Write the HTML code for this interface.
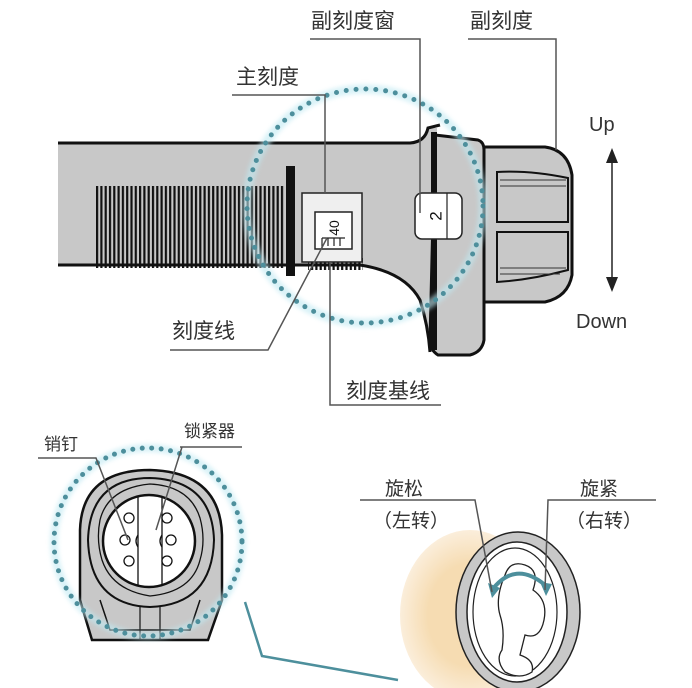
<!DOCTYPE html>
<html><head><meta charset="utf-8"><style>
html,body{margin:0;padding:0;background:#fff;}
svg{display:block;}
text{font-family:"Liberation Sans","Noto Sans CJK SC",sans-serif;fill:#333;}
</style></head><body>
<svg width="692" height="688" viewBox="0 0 692 688" xmlns="http://www.w3.org/2000/svg">
<defs>
<pattern id="tk" x="96" y="0" width="4.3" height="10" patternUnits="userSpaceOnUse"><rect x="0" y="0" width="2.2" height="10" fill="#111"/></pattern>
<filter id="gl" x="-20%" y="-20%" width="140%" height="140%"><feGaussianBlur stdDeviation="2"/></filter>
<radialGradient id="bg" cx="0.5" cy="0.5" r="0.5"><stop offset="0.6" stop-color="#f6dcb2"/><stop offset="1" stop-color="#fbeedb"/></radialGradient>
</defs>

<!-- ===== TOP DIAGRAM ===== -->
<path d="M58 143 L410 143 Q425 142 430 128 L437 128 L437 352 Q428 330 420 300 Q405 272 360 265 L58 265 Z" fill="#c8c8c8"/>
<path d="M58 143 L410 143 Q425 142 428 128 L440 125" fill="none" stroke="#111" stroke-width="3"/>
<path d="M58 265 L360 265 Q405 272 420 300 Q428 325 430 352" fill="none" stroke="#111" stroke-width="3"/>
<!-- flange -->
<path d="M435 135 L478 140 Q484 142 484 150 L484 340 Q482 352 470 355 L438 355 Q430 350 430 340 Z" fill="#c8c8c8" stroke="#111" stroke-width="3"/>
<rect x="431" y="132" width="6" height="218" fill="#111"/>
<!-- knob -->
<path d="M484 147 L545 147 Q568 150 572 175 L572 275 Q568 297 545 302 L484 302 Z" fill="#c8c8c8" stroke="#111" stroke-width="3"/>
<path d="M497 172 Q530 170 568 178 L568 222 L497 222 Z" fill="#c8c8c8" stroke="#111" stroke-width="2"/>
<path d="M497 232 L568 232 L568 270 Q530 280 497 282 Z" fill="#c8c8c8" stroke="#111" stroke-width="2"/>
<path d="M500 180 L566 180 M500 186 L566 186 M500 268 L566 268 M500 274 L560 274" stroke="#333" stroke-width="1"/>
<rect x="286" y="166" width="9" height="110" fill="#111"/>
<rect x="96" y="186" width="189" height="82" fill="url(#tk)"/>
<rect x="308" y="258" width="55" height="12" fill="url(#tk)"/>
<rect x="302" y="193" width="60" height="69" fill="#efefef" stroke="#222" stroke-width="1.5"/>
<rect x="315" y="212" width="37" height="37" fill="#fff" stroke="#222" stroke-width="1.5"/>
<text x="0" y="0" font-size="14" transform="translate(339,228) rotate(-90)" text-anchor="middle" style="fill:#111">40</text>
<path d="M322 238 L345 238 M322 238 L322 248 M328 238 L328 246 M334 238 L334 246 M340 238 L340 246" stroke="#222" stroke-width="1.2"/>
<rect x="415" y="193" width="47" height="46" rx="7" fill="#fff" stroke="#222" stroke-width="1.5"/>
<line x1="447" y1="193" x2="447" y2="239" stroke="#222" stroke-width="1.2"/>
<text font-size="17" transform="translate(437,216) rotate(-90)" text-anchor="middle" dominant-baseline="middle" style="fill:#111">2</text>
<ellipse cx="365" cy="206" rx="118" ry="117" fill="none" stroke="#bfe9f2" stroke-width="9" opacity="0.6" filter="url(#gl)"/>
<ellipse cx="365" cy="206" rx="118" ry="117" fill="none" stroke="#4d8f9c" stroke-width="5" stroke-linecap="round" stroke-dasharray="0 9.9"/>
<g stroke="#555" stroke-width="1.5" fill="none">
<path d="M310 39 L420 39 L420 213"/>
<path d="M468 39 L556 39 L556 150"/>
<path d="M232 95 L325 95 L325 193"/>
<path d="M170 350 L268 350 L327 238"/>
<path d="M330 262 L330 405 L441 405"/>
</g>
<text x="311" y="28" font-size="21">副刻度窗</text>
<text x="470" y="28" font-size="21">副刻度</text>
<text x="236" y="84" font-size="21">主刻度</text>
<text x="172" y="338" font-size="21">刻度线</text>
<text x="346" y="398" font-size="21">刻度基线</text>
<text x="589" y="131" font-size="20">Up</text>
<text x="576" y="328" font-size="20">Down</text>
<line x1="612" y1="160" x2="612" y2="280" stroke="#222" stroke-width="1.5"/>
<path d="M606 163 L612 148 L618 163 Z M606 277 L612 292 L618 277 Z" fill="#222"/>

<!-- ===== BOTTOM LEFT ===== -->
<path d="M92 640 L80 600 L80 530 Q82 470 150 470 Q220 472 222 535 L222 600 L208 640 Z" fill="#c8c8c8" stroke="#111" stroke-width="2.5"/>
<path d="M100 600 L110 630 L190 630 L200 600" fill="none" stroke="#111" stroke-width="1.5"/>
<path d="M140 600 L140 640 M160 600 L160 640" stroke="#111" stroke-width="1.2"/>
<path d="M88 540 Q90 478 150 478 Q212 480 214 540 Q212 605 150 607 Q90 605 88 540 Z" fill="#c8c8c8" stroke="#111" stroke-width="2"/>
<path d="M100 520 Q96 540 102 560 Q112 590 150 596 Q192 592 200 560 Q206 540 200 518 Q190 486 150 484 Q108 488 100 520 Z" fill="none" stroke="#111" stroke-width="1.3"/>
<circle cx="149" cy="541" r="46" fill="#fff" stroke="#111" stroke-width="2.5"/>
<path d="M138 497 L138 586 M162 497 L162 586" stroke="#111" stroke-width="1.3"/>
<path d="M138 535 Q134 541 138 547 M162 535 Q158 541 162 547" stroke="#111" stroke-width="1.3" fill="none"/>
<g fill="#fff" stroke="#111" stroke-width="1.3">
<circle cx="129" cy="518" r="5"/><circle cx="125" cy="540" r="5"/><circle cx="129" cy="561" r="5"/>
<circle cx="167" cy="518" r="5"/><circle cx="171" cy="540" r="5"/><circle cx="167" cy="561" r="5"/>
</g>
<circle cx="148" cy="542" r="94" fill="none" stroke="#bfe9f2" stroke-width="8" opacity="0.6" filter="url(#gl)"/>
<circle cx="148" cy="542" r="94" fill="none" stroke="#4d8f9c" stroke-width="5" stroke-linecap="round" stroke-dasharray="0 9.5"/>
<g stroke="#555" stroke-width="1.5" fill="none">
<path d="M38 458 L96 458 L128 540"/>
<path d="M180 447 L242 447 L182 447 L156 530"/>
</g>
<text x="44" y="450" font-size="17">销钉</text>
<text x="184" y="437" font-size="17">锁紧器</text>
<path d="M245 602 L262 656 L398 680" fill="none" stroke="#4d8f9c" stroke-width="2.5"/>

<!-- ===== BOTTOM RIGHT ===== -->
<ellipse cx="470" cy="615" rx="70" ry="85" fill="url(#bg)"/>
<ellipse cx="518" cy="612" rx="62" ry="80" fill="#c8c8c8" stroke="#222" stroke-width="1.5"/>
<ellipse cx="517" cy="612" rx="50" ry="70" fill="#fff" stroke="#222" stroke-width="1.5"/>
<ellipse cx="515" cy="612" rx="42" ry="64" fill="none" stroke="#222" stroke-width="1.2"/>
<path d="M505 575 Q510 560 525 565 Q540 570 533 590 Q548 600 544 620 Q540 640 525 635 L520 655 Q535 660 532 672 Q520 680 505 672 Q495 660 502 650 Q505 630 500 615 Q495 598 505 575 Z" fill="#fff" stroke="#222" stroke-width="1.3"/>
<path d="M492 590 Q515 560 545 585" fill="none" stroke="#4d8f9c" stroke-width="4"/>
<path d="M488 583 L492 598 L500 588 Z M540 582 L546 596 L552 584 Z" fill="#4d8f9c"/>
<g stroke="#555" stroke-width="1.5" fill="none">
<path d="M360 500 L475 500 L492 592"/>
<path d="M656 500 L548 500 L545 590"/>
</g>
<text x="385" y="495" font-size="19">旋松</text>
<text x="373" y="527" font-size="19">（左转）</text>
<text x="580" y="495" font-size="19">旋紧</text>
<text x="566" y="527" font-size="19">（右转）</text>
</svg>
</body></html>
